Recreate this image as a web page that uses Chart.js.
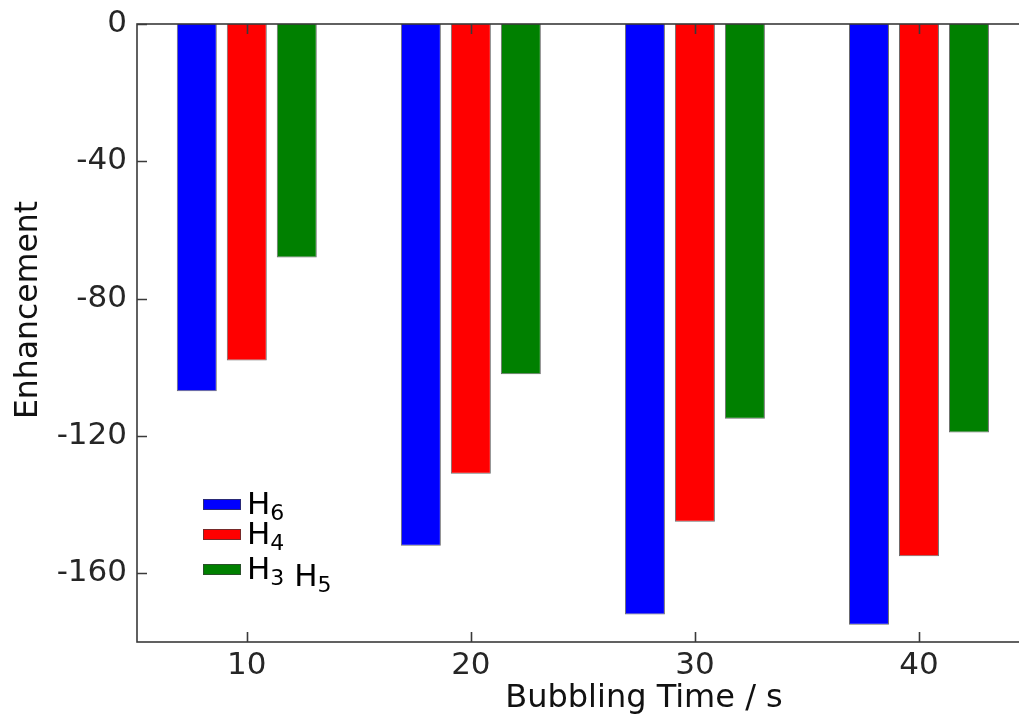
<!DOCTYPE html>
<html>
<head>
<meta charset="utf-8">
<title>Enhancement vs bubbling time</title>
<script src="https://cdn.jsdelivr.net/npm/chart.js@4.4.1/dist/chart.umd.min.js"></script>
<style>
    html, body { margin: 0; padding: 0; background: #fff; overflow: hidden; }
    #wrap { width: 1040px; height: 717px; }
</style>
</head>
<body>
<div id="wrap">
    <canvas id="chartEnhancement" width="1040" height="717"></canvas>
</div>
<script>
// Bubbling times (s) and enhancement per proton site
const bubblingTimes = [10, 20, 30, 40];
const enhancementH6 = [-107, -152, -172, -175];
const enhancementH4 = [-98, -131, -145, -155];
const enhancementH35 = [-68, -102, -115, -119];

const seriesLabels = ['H\u2086', 'H\u2084', 'H\u2083 H\u2085'];
const seriesColors = ['#0000ff', '#ff0000', '#008000'];

const xTicks = [10, 20, 30, 40];
const yTicks = [0, -40, -80, -120, -160];

const TEXT_COLOR = '#262626';
const FRAME_COLOR = '#3a3a3a';
const FONT = '"DejaVu Sans", sans-serif';

const toPoints = (values) => values.map((v, i) => ({ x: bubblingTimes[i], y: v }));

// Subscript digits get drawn smaller and lowered, like mathtext
const SUBSCRIPTS = '\u2080\u2081\u2082\u2083\u2084\u2085\u2086\u2087\u2088\u2089';

function drawSubscripted(ctx, text, x, y, size) {
    let cx = x;
    let dy = 0;
    for (const ch of text) {
        const idx = SUBSCRIPTS.indexOf(ch);
        if (idx >= 0) {
            ctx.font = Math.round(size * 0.72) + 'px ' + FONT;
            ctx.fillText(String(idx), cx, y + dy + 6);
            cx += ctx.measureText(String(idx)).width;
        } else if (ch === ' ') {
            ctx.font = size + 'px ' + FONT;
            cx += ctx.measureText(' ').width;
            dy += 7; // second species sits a little lower
        } else {
            ctx.font = size + 'px ' + FONT;
            ctx.fillText(ch, cx, y + dy);
            cx += ctx.measureText(ch).width;
        }
    }
}

// Frame, inward ticks, axis titles and the legend
const framePlugin = {
    id: 'frame',
    afterDraw(chart) {
        const { ctx, chartArea: a, scales } = chart;
        const tick = 10;
        ctx.save();
        ctx.strokeStyle = FRAME_COLOR;
        ctx.lineWidth = 1.6;
        ctx.strokeRect(a.left, a.top, a.right - a.left, a.bottom - a.top);

        ctx.beginPath();
        xTicks.forEach(v => {
            const px = Math.round(scales.x.getPixelForValue(v)) + 0.5;
            ctx.moveTo(px, a.top); ctx.lineTo(px, a.top + tick);
            ctx.moveTo(px, a.bottom); ctx.lineTo(px, a.bottom - tick);
        });
        yTicks.forEach(v => {
            const py = Math.round(scales.y.getPixelForValue(v)) + 0.5;
            ctx.moveTo(a.left, py); ctx.lineTo(a.left + tick, py);
            ctx.moveTo(a.right, py); ctx.lineTo(a.right - tick, py);
        });
        ctx.stroke();

        // axis titles
        ctx.fillStyle = '#111';
        ctx.font = '32px ' + FONT;
        ctx.textAlign = 'center';
        ctx.textBaseline = 'alphabetic';
        ctx.fillText('Bubbling Time / s', 644, 707);

        ctx.save();
        ctx.translate(37, 310);
        ctx.rotate(-Math.PI / 2);
        ctx.font = '31.5px ' + FONT;
        ctx.fillText('Enhancement', 0, 0);
        ctx.restore();

        // legend
        const rows = [504.5, 534.5, 569.5];
        ctx.textAlign = 'left';
        chart.data.datasets.forEach((ds, i) => {
            ctx.fillStyle = ds.backgroundColor;
            ctx.fillRect(203, rows[i] - 5.5, 38, 11);
            ctx.strokeStyle = 'rgba(60,60,60,0.7)';
            ctx.lineWidth = 1;
            ctx.strokeRect(203.5, rows[i] - 5, 37, 10);
            ctx.fillStyle = '#000';
            drawSubscripted(ctx, ds.label, 247, rows[i] + 9, 31);
        });
        ctx.restore();
    }
};

const barStyle = {
    borderWidth: 1,
    borderColor: 'rgba(60,60,60,0.75)',
    borderSkipped: 'start',
    categoryPercentage: 150 / 224.1,
    barPercentage: 0.8
};

const chart = new Chart(document.getElementById('chartEnhancement').getContext('2d'), {
    type: 'bar',
    data: {
        datasets: [
            { label: seriesLabels[0], data: toPoints(enhancementH6), backgroundColor: seriesColors[0], ...barStyle },
            { label: seriesLabels[1], data: toPoints(enhancementH4), backgroundColor: seriesColors[1], ...barStyle },
            { label: seriesLabels[2], data: toPoints(enhancementH35), backgroundColor: seriesColors[2], ...barStyle }
        ]
    },
    options: {
        responsive: false,
        animation: false,
        layout: { padding: { top: 24, right: 9, left: 0, bottom: 0 } },
        plugins: {
            legend: { display: false },
            tooltip: { enabled: false }
        },
        scales: {
            x: {
                type: 'linear',
                min: 5.1,
                max: 45,
                offset: false,
                grid: { display: false, drawTicks: false },
                border: { display: false },
                afterBuildTicks: (scale) => { scale.ticks = xTicks.map(v => ({ value: v })); },
                afterFit: (scale) => { scale.height = 75; },
                ticks: {
                    padding: 5,
                    color: TEXT_COLOR,
                    font: { family: FONT, size: 31 },
                    callback: (v) => String(v)
                }
            },
            y: {
                min: -180,
                max: 0,
                grid: { display: false, drawTicks: false },
                border: { display: false },
                afterBuildTicks: (scale) => { scale.ticks = yTicks.map(v => ({ value: v })); },
                afterFit: (scale) => {
                    scale.width = 137;
                    scale.paddingTop = 0;
                    scale.paddingBottom = 0;
                },
                ticks: {
                    padding: 10,
                    color: TEXT_COLOR,
                    font: { family: FONT, size: 31 },
                    callback: (v) => String(v)
                }
            }
        }
    },
    plugins: [framePlugin]
});
</script>
</body>
</html>
